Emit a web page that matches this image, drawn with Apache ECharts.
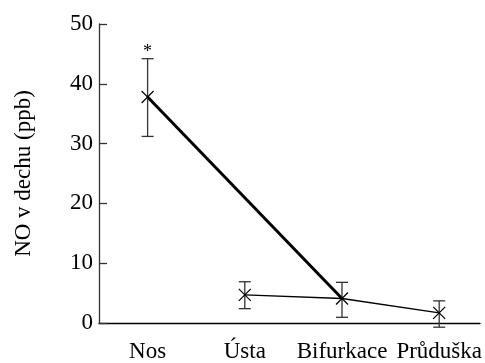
<!DOCTYPE html>
<html>
<head>
<meta charset="utf-8">
<script src="https://cdn.jsdelivr.net/npm/echarts@6/dist/echarts.min.js"></script>
<style>html,body{margin:0;padding:0;background:#fff}#c{width:485px;height:363px}</style>
</head>
<body>
<div id="c"></div>
<script>
var categories = ['Nos', 'Ústa', 'Bifurkace', 'Průduška'];
var means = [37.8, 4.7, 4.1, 1.7];
var upper = [44.2, 6.9, 6.8, 3.7];
var lower = [31.2, 2.4, 0.95, -0.7];
var marks = ['*', '', '', ''];
var thickIdx = [0, 2];      // Nos -> Bifurkace
var thinIdx = [1, 2, 3];    // Ústa -> Bifurkace -> Průduška
var yTicks = [0, 10, 20, 30, 40, 50];

var FONT = "'Liberation Serif', 'Times New Roman', serif";
var FS = 23;
var chart = echarts.init(document.getElementById('c'));

var errData = categories.map(function (c, i) { return [i, lower[i], upper[i], means[i], marks[i]]; });

chart.setOption({
  animation: false,
  grid: { left: 99, right: 2, top: 24, bottom: 39 },
  xAxis: {
    type: 'value', min: -0.5, max: 3.42, interval: 0.5,
    axisLine: { show: true, onZero: false, lineStyle: { color: '#000', width: 1.3 } },
    axisTick: { show: false },
    splitLine: { show: false },
    axisLabel: {
      color: '#000', fontFamily: FONT, fontSize: FS, margin: 17,
      showMinLabel: true, showMaxLabel: false,
      formatter: function (v) {
        var k = Math.round(v);
        return (Math.abs(v - k) < 1e-6 && categories[k] !== undefined) ? categories[k] : '';
      }
    }
  },
  yAxis: {
    type: 'value', min: yTicks[0], max: yTicks[yTicks.length - 1], interval: 10,
    name: 'NO v dechu (ppb)', nameLocation: 'middle', nameGap: 64,
    nameTextStyle: { color: '#000', fontFamily: FONT, fontSize: FS },
    axisLine: { show: true, onZero: false, lineStyle: { color: '#333', width: 1.3 } },
    axisTick: { show: true, inside: true, length: 8, lineStyle: { color: '#333', width: 1.3 } },
    splitLine: { show: false },
    axisLabel: { color: '#000', fontFamily: FONT, fontSize: FS, margin: 6 }
  },
  series: [
    {
      type: 'line', data: thickIdx.map(function (i) { return [i, means[i]]; }),
      symbol: 'none', lineStyle: { color: '#000', width: 3 }, z: 3
    },
    {
      type: 'line', data: thinIdx.map(function (i) { return [i, means[i]]; }),
      symbol: 'none', lineStyle: { color: '#000', width: 1.3 }, z: 3
    },
    {
      type: 'custom', clip: false, z: 4,
      data: errData,
      renderItem: function (params, api) {
        var x = api.value(0);
        var lo = api.coord([x, api.value(1)]);
        var hi = api.coord([x, api.value(2)]);
        var m = api.coord([x, api.value(3)]);
        var cw = 6, s = 6;
        var st = { stroke: '#333', lineWidth: 1.3 };
        var children = [
          { type: 'line', shape: { x1: hi[0], y1: hi[1], x2: lo[0], y2: lo[1] }, style: st },
          { type: 'line', shape: { x1: hi[0] - cw, y1: hi[1], x2: hi[0] + cw, y2: hi[1] }, style: st },
          { type: 'line', shape: { x1: lo[0] - cw, y1: lo[1], x2: lo[0] + cw, y2: lo[1] }, style: st },
          { type: 'line', shape: { x1: m[0] - s, y1: m[1] - s, x2: m[0] + s, y2: m[1] + s }, style: { stroke: '#000', lineWidth: 1.2 } },
          { type: 'line', shape: { x1: m[0] - s, y1: m[1] + s, x2: m[0] + s, y2: m[1] - s }, style: { stroke: '#000', lineWidth: 1.2 } }
        ];
        var mk = api.value(4);
        if (mk) {
          children.push({ type: 'text', style: { text: mk, x: hi[0], y: hi[1] - 6, align: 'center', verticalAlign: 'middle', fill: '#000', font: '18px ' + FONT } });
        }
        return { type: 'group', children: children };
      }
    }
  ]
});
</script>
</body>
</html>
